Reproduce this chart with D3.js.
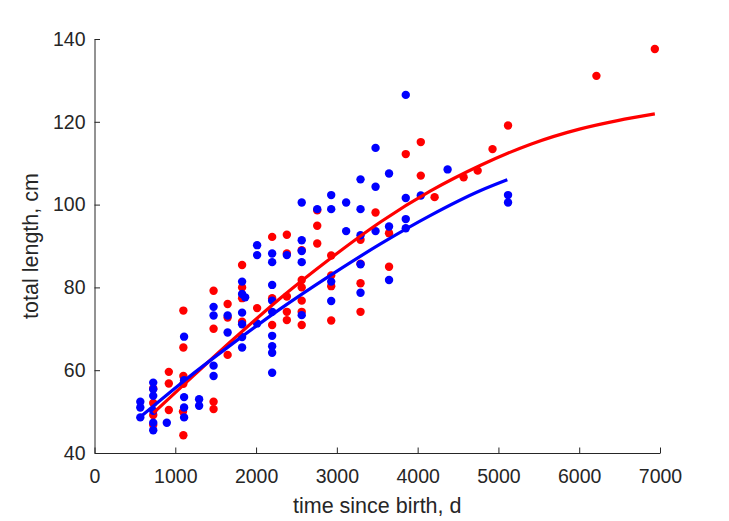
<!DOCTYPE html>
<html>
<head>
<meta charset="utf-8">
<script src="https://cdn.jsdelivr.net/npm/d3@7"></script>
<style>
  html, body { margin: 0; padding: 0; background: #fff; }
  svg { display: block; }
  text { font-family: "Liberation Sans", Arial, Helvetica, sans-serif; }
</style>
</head>
<body>
<script>
// ---- data ----
const redTime = [
  727, 727, 727, 727,
  920, 920, 920,
  1100, 1100, 1100, 1100, 1095, 1100,
  1474, 1474, 1474, 1474,
  1648, 1648, 1648,
  1827, 1827, 1827, 1827,
  2013,
  2199, 2199, 2199,
  2381, 2381, 2381, 2381, 2381,
  2565, 2565, 2565, 2565, 2565, 2565,
  2757, 2757, 2757,
  2930, 2930, 2930, 2930,
  3293, 3293, 3293, 3293,
  3479,
  3646, 3646,
  3853,
  4039, 4039,
  4210, 4569, 4743, 4927, 5119, 6213, 6936
];
const redLength = [
  55.6, 52.1, 49.2, 46.8,
  59.6, 56.8, 50.4,
  74.4, 65.5, 58.6, 56.7, 50.0, 44.3,
  79.2, 70.0, 52.4, 50.6,
  76.0, 72.7, 63.7,
  85.4, 80.0, 77.4, 71.7,
  75.0,
  92.2, 77.4, 70.9,
  92.7, 88.2, 77.8, 74.1, 72.1,
  89.0, 81.8, 80.0, 76.8, 74.1, 70.9,
  98.6, 94.9, 90.6,
  87.7, 82.9, 80.3, 72.0,
  91.5, 85.7, 81.0, 74.1,
  98.1,
  93.1, 85.0,
  112.2,
  115.1, 107.0,
  101.8, 106.6, 108.2, 113.4, 119.1, 131.1, 137.6
];
const blueTime = [
  567, 567, 567,
  727, 727, 727, 727, 727, 727,
  895,
  1109, 1109, 1109, 1109, 1109,
  1295, 1295,
  1474, 1474, 1474, 1474,
  1648, 1648,
  1827, 1827, 1865, 1827, 1827, 1827, 1827,
  2013, 2013, 2013,
  2199, 2199, 2199, 2199, 2199, 2199, 2199, 2199, 2199,
  2381,
  2565, 2565, 2565, 2565, 2565,
  2757,
  2930, 2930, 2930, 2930,
  3115, 3115,
  3293, 3293, 3293, 3293, 3293,
  3479, 3479, 3479,
  3646, 3646, 3646,
  3853, 3853, 3853, 3853,
  4039,
  4371,
  5119, 5119
];
const blueLength = [
  52.4, 51.0, 48.6,
  57.0, 55.4, 53.8, 50.2, 47.3, 45.5,
  47.3,
  68.1, 57.6, 53.5, 51.0, 48.6,
  53.0, 51.4,
  75.3, 73.2, 61.1, 58.6,
  73.2, 69.1,
  81.4, 78.4, 77.6, 73.9, 71.1, 68.0, 65.5,
  90.2, 87.8, 71.3,
  88.2, 86.1, 80.6, 76.8, 74.1, 68.3, 65.8, 64.2, 59.4,
  87.8,
  100.5, 91.4, 88.8, 86.1, 73.3,
  98.9,
  102.3, 98.9, 81.4, 76.7,
  100.5, 93.6,
  106.1, 98.9, 92.6, 85.6, 78.7,
  113.7, 104.3, 93.6,
  107.5, 94.7, 81.8,
  126.5, 101.6, 96.5, 94.3,
  102.2,
  108.5,
  102.3, 100.5
];
// fitted curves, points
const redFitTime   = [730, 1100, 1680, 2300, 2920, 3540, 4160, 4780, 5400, 6015, 6475, 6936];
const redFitLength = [49.7, 56.4, 66.8, 77.4, 87.0, 95.8, 103.3, 109.5, 114.6, 118.3, 120.3, 121.9];
const blueFitTime   = [547, 1100, 1680, 2300, 2920, 3540, 4160, 4780, 5110];
const blueFitLength = [48.4, 57.3, 66.0, 74.8, 82.9, 90.5, 97.4, 103.4, 106.0];

const xTicks = [0, 1000, 2000, 3000, 4000, 5000, 6000, 7000];
const yTicks = [40, 60, 80, 100, 120, 140];
const xLabel = "time since birth, d";
const yLabel = "total length, cm";

// ---- drawing ----
const W = 729, H = 521;
const mLeft = 94.5, mRight = 660, mTop = 39, mBottom = 453;
const axisColor = "#262626";

const svg = d3.select("body").append("svg").attr("width", W).attr("height", H);

const x = d3.scaleLinear().domain([0, 7000]).range([mLeft, mRight]);
const y = d3.scaleLinear().domain([40, 140]).range([mBottom, mTop]);

// points
function dots(ts, ls, color) {
  svg.append("g").selectAll("circle")
    .data(d3.zip(ts, ls))
    .join("circle")
    .attr("cx", d => x(d[0]))
    .attr("cy", d => y(d[1]))
    .attr("r", 4.2)
    .attr("fill", color);
}
dots(redTime, redLength, "#ff0000");
dots(blueTime, blueLength, "#0000ff");

const line = d3.line().x(d => x(d[0])).y(d => y(d[1])).curve(d3.curveMonotoneX);
svg.append("path").datum(d3.zip(redFitTime, redFitLength))
  .attr("d", line).attr("fill", "none").attr("stroke", "#ff0000")
  .attr("stroke-width", 3.2).attr("stroke-linecap", "butt");
svg.append("path").datum(d3.zip(blueFitTime, blueFitLength))
  .attr("d", line).attr("fill", "none").attr("stroke", "#0000ff")
  .attr("stroke-width", 3.2).attr("stroke-linecap", "butt");

// axes
const xAxis = d3.axisBottom(x).tickValues(xTicks).tickFormat(d3.format("d"))
  .tickSizeInner(-5.5).tickSizeOuter(0).tickPadding(16);
const yAxis = d3.axisLeft(y).tickValues(yTicks).tickFormat(d3.format("d"))
  .tickSizeInner(-5.5).tickSizeOuter(0).tickPadding(9);

const gx = svg.append("g").attr("transform", `translate(0,${mBottom})`).call(xAxis);
const gy = svg.append("g").attr("transform", `translate(${mLeft},0)`).call(yAxis);

[gx, gy].forEach(g => {
  g.select(".domain").attr("stroke", axisColor).attr("stroke-width", 1);
  g.selectAll(".tick line").attr("stroke", axisColor).attr("stroke-width", 1);
  g.selectAll(".tick text").attr("fill", axisColor)
    .style("font-size", "19.5px")
    .style("font-family", "'Liberation Sans', Arial, sans-serif");
});

svg.append("text")
  .attr("x", (mLeft + mRight) / 2).attr("y", 513)
  .attr("text-anchor", "middle").attr("fill", axisColor)
  .style("font-size", "21.5px")
  .text(xLabel);

svg.append("text")
  .attr("transform", `translate(38,${(mTop + mBottom) / 2}) rotate(-90)`)
  .attr("text-anchor", "middle").attr("fill", axisColor)
  .style("font-size", "21.5px")
  .text(yLabel);
</script>
</body>
</html>
